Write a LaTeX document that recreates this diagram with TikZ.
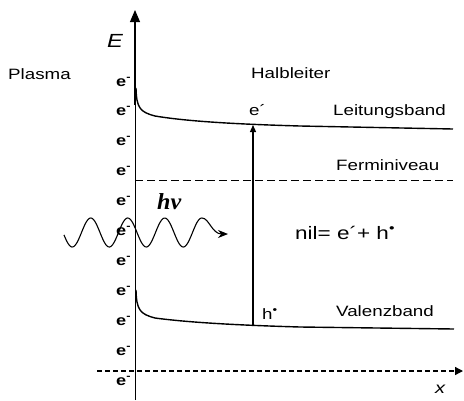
\documentclass[tikz,border=0pt]{standalone}
\usepackage{fontspec}
\setmainfont{Liberation Sans}[FakeStretch=1.25]
\newfontfamily\hvfont{Liberation Serif}[FakeStretch=1.05]
\usetikzlibrary{arrows.meta}
\begin{document}
\begin{tikzpicture}[x=1pt,y=-1pt,
  lbl/.style={inner sep=0pt, anchor=base west, font=\fontsize{15}{18}\selectfont},
  elbl/.style={inner sep=0pt, anchor=base west, font=\bfseries\fontsize{14.5}{16}\selectfont},
  band/.style={line width=1.4pt},
  axisline/.style={line width=1pt},
  fermi/.style={line width=1pt, dash pattern=on 8pt off 4pt},
  xaxis/.style={line width=1.3pt, dash pattern=on 5pt off 3pt, -{Triangle[length=8pt,width=8pt]}},
  wave/.style={line width=1.1pt, -{Stealth[length=10pt,width=8pt]}}
]
\useasboundingbox (0,0) rectangle (464,400);

% axes
\coordinate (Ebot) at (135,400);
\coordinate (Etop) at (135,10);
\coordinate (Ethick) at (135,105);
\draw[axisline, -{Triangle[length=12pt,width=10pt]}] (Ebot) -- (Etop);
\draw[line width=2.4pt] (Ethick) -- (135,21);
\coordinate (xl) at (97,371);
\coordinate (xr) at (463,371);
\draw[xaxis] (xl) -- (xr);

% bands
\draw[band] (136,88) .. controls (136.5,108) and (140,112) .. (155,116)
  .. controls (185,121) and (230,124) .. (300,126) -- (453,129);
\draw[band] (136,290) .. controls (136.5,310) and (140,314) .. (155,318)
  .. controls (185,322) and (230,325) .. (300,327) -- (454,329);
\coordinate (fl) at (135,180);
\coordinate (fr) at (453,180);
\draw[fermi] (fl) -- (fr);

% excitation arrow
\coordinate (vb) at (253,326);
\coordinate (cb) at (253,125);
\draw[line width=1.3pt, -{Triangle[length=7pt,width=6pt]}] (vb) -- (cb);

% photon wave
\coordinate (wend) at (228,234);
\draw[wave] plot[domain=64:202, samples=140, smooth] (\x,{232.5+14.5*sin((\x-63)*9.72973)})
  .. controls (209,218) and (212,234) .. (wend);
\node[inner sep=0pt, anchor=base west, font=\hvfont\bfseries\itshape\fontsize{23}{25}\selectfont] (hv) at (157,209) {hν};

% labels
\node[inner sep=0pt, anchor=base west, font=\itshape\fontsize{19}{21}\selectfont] (E) at (107,47) {E};
\node[inner sep=0pt, anchor=base west, font=\itshape\fontsize{16}{18}\selectfont] (X) at (435,393) {x};
\node[lbl] (plasma) at (8,79) {Plasma};
\node[lbl] (halb) at (251,78) {Halbleiter};
\node[lbl] (eprime) at (249,115) {e´};
\node[lbl] (lb) at (333,115) {Leitungsband};
\node[lbl] (fn) at (336,170) {Ferminiveau};
\node[lbl] (hdot) at (262,319) {h\textsuperscript{•}};
\node[lbl] (vb2) at (336,316) {Valenzband};
\node[inner sep=0pt, anchor=base west, font=\fontsize{18}{20}\selectfont] (nil) at (295,239) {nil= e´+ h\textsuperscript{•}};

% electrons
\foreach \y [count=\i] in {86,115,145,175,205,235,265,295,325,355,385}
  \node[elbl] (el\i) at (116,\y) {e\textsuperscript{-}};
\end{tikzpicture}
\end{document}
